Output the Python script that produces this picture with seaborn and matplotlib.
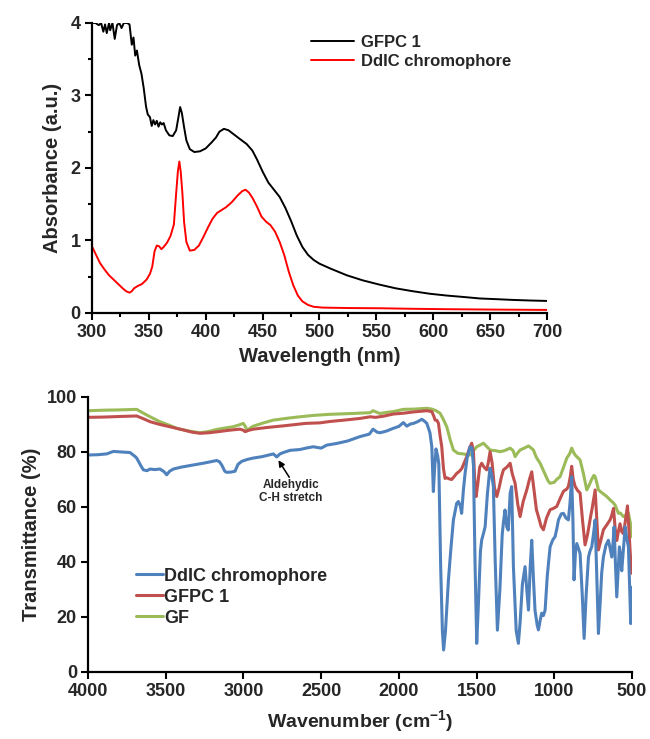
# UV-vis absorbance (top) and FTIR transmittance (bottom) of DdIC chromophore / GFPC 1 / GF
import matplotlib
matplotlib.use("Agg")
import matplotlib.pyplot as plt
import seaborn as sns
import pandas as pd

# ---- UV-vis data (wavelength nm, absorbance) ----
wl_gfpc = [300, 303, 306, 308, 310, 311.5, 313, 315, 316, 318, 320, 322, 324, 326, 328, 331, 333,
           335, 336.5, 338, 339.5, 341.5, 343.5, 345.5, 347.5, 349, 351, 352.5, 354, 355.5, 357,
           358.5, 360, 361.5, 363, 365, 368, 371, 374, 376, 377.5, 379, 381, 383, 386, 390, 395,
           400, 405, 409, 412, 416, 420, 425, 430, 436, 441, 445, 450, 455, 460, 465, 470, 475,
           480, 485, 490, 495, 500, 510, 524, 538, 553, 567, 582, 597, 612, 627, 641, 656, 670,
           685, 700]
abs_gfpc = [4.0, 4.0, 3.97, 4.0, 3.88, 3.98, 3.86, 4.0, 3.9, 4.0, 3.78, 3.97, 4.0, 3.93, 4.0, 4.0, 3.98,
            3.70, 3.80, 3.55, 3.62, 3.42, 3.30, 3.10, 2.85, 2.74, 2.70, 2.58, 2.66, 2.60, 2.65,
            2.57, 2.63, 2.60, 2.62, 2.52, 2.45, 2.44, 2.52, 2.70, 2.84, 2.76, 2.56, 2.38, 2.26, 2.22, 2.23,
            2.27, 2.35, 2.42, 2.50, 2.54, 2.52, 2.46, 2.40, 2.33, 2.24, 2.12, 1.95, 1.80, 1.70, 1.60, 1.45, 1.27,
            1.07, 0.91, 0.80, 0.73, 0.68, 0.61, 0.52, 0.45, 0.39, 0.34, 0.30, 0.265, 0.24, 0.22, 0.20, 0.19, 0.18,
            0.172, 0.166]

wl_ddic = [300, 303, 307, 311, 315, 319, 323, 327, 330, 333, 335, 337, 340, 344, 348, 351, 353, 355,
           357, 359, 361, 363, 366, 369, 372, 374, 375.5, 376.8, 378, 379.5, 381, 383, 386, 390, 394,
           398, 402, 406, 410, 414, 418, 423, 428, 432, 435, 438, 441, 445, 449, 453, 457, 461, 465,
           469, 473, 477, 481, 485, 490, 495, 503, 525, 553, 580, 612, 650, 700]
abs_ddic = [0.92, 0.82, 0.69, 0.60, 0.52, 0.46, 0.40, 0.34, 0.30, 0.28, 0.30, 0.34, 0.37, 0.40, 0.46, 0.54, 0.64, 0.85,
            0.93, 0.92, 0.88, 0.91, 0.97, 1.06, 1.22, 1.65, 1.95, 2.09, 1.95, 1.65, 1.25, 0.98, 0.86, 0.87, 0.93,
            1.05, 1.18, 1.30, 1.38, 1.42, 1.46, 1.53, 1.62, 1.68, 1.70, 1.66, 1.59, 1.47, 1.33, 1.26, 1.21, 1.12, 0.98,
            0.80, 0.57, 0.38, 0.24, 0.16, 0.11, 0.085, 0.074, 0.068, 0.065, 0.058, 0.052, 0.047, 0.042]

# ---- FTIR data (wavenumber cm-1, transmittance %) ----
wn_ddic = [4000, 3940, 3880, 3837, 3780, 3730, 3700, 3687, 3660, 3644, 3620, 3601, 3570, 3537, 3510, 3494,
           3475, 3451, 3400, 3322, 3250, 3172, 3155, 3140, 3120, 3108, 3080, 3054, 3035, 3011, 2975, 2936,
           2880, 2830, 2807, 2786, 2765, 2743, 2700, 2636, 2590, 2550, 2500, 2464, 2400, 2330, 2250, 2190,
           2166, 2140, 2121, 2080, 2036, 2000, 1971, 1949, 1925, 1906, 1880, 1852, 1835, 1820, 1800, 1788,
           1778, 1770, 1761, 1750, 1743, 1731, 1720, 1712, 1700, 1690, 1681, 1665, 1649, 1628, 1617, 1605,
           1596, 1585, 1574, 1560, 1542, 1530, 1520, 1510, 1499, 1488, 1475, 1467, 1455, 1445, 1430, 1414,
           1404, 1392, 1380, 1366, 1350, 1335, 1327, 1317, 1306, 1296, 1284, 1274, 1263, 1245, 1231, 1220,
           1205, 1188, 1177, 1166, 1155, 1145, 1135, 1124, 1110, 1102, 1090, 1081, 1070, 1059, 1045, 1027,
           1010, 995, 984, 973, 955, 941, 925, 909, 898, 888, 880, 873, 863, 855, 845, 834, 820, 808, 795,
           780, 770, 759, 748, 737, 727, 716, 705, 695, 684, 668, 652, 641, 630, 622, 615, 607, 598, 590,
           581, 573, 566, 555, 544, 535, 523, 515, 508, 502, 500]
tr_ddic = [78.9, 79.0, 79.3, 80.2, 80.0, 79.8, 78.5, 77.8, 75.0, 73.5, 73.2, 73.8, 73.6, 73.8, 72.8, 71.7,
           73.0, 73.8, 74.5, 75.3, 76.0, 76.9, 76.5, 75.3, 73.0, 72.6, 72.7, 73.0, 75.5, 76.6, 77.3, 77.8,
           78.3, 79.0, 79.3, 78.2, 79.3, 79.8, 80.6, 80.9, 81.5, 81.9, 81.4, 82.5, 83.1, 84.0, 85.6, 86.5,
           88.3, 87.2, 87.0, 87.6, 88.6, 89.3, 90.7, 89.4, 90.2, 90.4, 91.0, 91.9, 91.2, 90.4, 87.0, 81.9,
           65.6, 74.0, 81.1, 78.5, 75.6, 38.3, 15.0, 8.0, 15.0, 25.0, 33.5, 45.0, 55.3, 61.3, 62.0, 60.5,
           57.7, 66.0, 72.2, 78.0, 81.9, 81.5, 75.0, 40.0, 10.4, 25.0, 44.0, 48.0, 50.5, 52.8, 65.0, 74.1,
           72.0, 67.5, 40.0, 15.2, 30.0, 50.0, 54.5, 58.9, 52.8, 51.6, 65.0, 67.4, 38.3, 15.0, 10.4, 18.0,
           32.0, 38.3, 30.0, 22.5, 38.0, 47.9, 35.0, 22.5, 17.0, 15.3, 19.0, 21.4, 20.5, 22.5, 35.0, 45.5,
           48.0, 49.2, 52.0, 55.3, 57.5, 57.7, 56.0, 55.3, 62.0, 71.0, 55.0, 33.5, 44.0, 46.7, 45.0, 43.1, 28.0, 12.2, 28.0,
           41.8, 44.0, 45.5, 50.0, 55.3, 35.0, 14.0, 25.0, 36.0, 41.8, 46.0, 47.9, 45.0, 41.8, 47.0, 52.8, 40.0, 27.3, 36.0,
           45.5, 42.0, 36.8, 45.0, 52.8, 49.0, 45.5, 30.0, 17.6, 25.0, 30.8]

wn_gfpc = [4000, 3900, 3800, 3687, 3640, 3600, 3537, 3460, 3386, 3330, 3279, 3220, 3160, 3108, 3060, 3022,
           3000, 2990, 2965, 2936, 2850, 2743, 2600, 2507, 2443, 2350, 2250, 2185, 2150, 2100, 2036, 1971,
           1900, 1821, 1788, 1775, 1767, 1755, 1745, 1735, 1724, 1713, 1703, 1690, 1675, 1660, 1645, 1628,
           1610, 1595, 1580, 1563, 1545, 1531, 1520, 1512, 1503, 1493, 1480, 1467, 1452, 1435, 1425, 1413,
           1400, 1385, 1370, 1355, 1340, 1327, 1305, 1284, 1270, 1252, 1235, 1220, 1200, 1177, 1160, 1145,
           1130, 1115, 1102, 1085, 1070, 1050, 1027, 1005, 984, 963, 941, 920, 909, 897, 888, 878, 866, 850,
           834, 818, 802, 786, 770, 755, 737, 726, 716, 700, 684, 662, 641, 630, 619, 608, 598, 588, 577,
           566, 555, 545, 535, 529, 520, 510, 501]
tr_gfpc = [92.6, 92.7, 92.9, 93.1, 92.0, 91.0, 90.0, 89.0, 88.0, 87.2, 86.8, 87.0, 87.4, 87.8, 88.1, 88.3,
           87.9, 87.4, 87.9, 88.3, 88.9, 89.5, 90.4, 90.6, 91.1, 91.6, 92.2, 92.8, 92.6, 93.0, 93.8, 94.1,
           94.6, 95.0, 94.7, 93.0, 91.6, 91.5, 90.4, 86.0, 81.9, 74.0, 70.4, 70.6, 70.2, 70.0, 71.0, 72.2,
           73.0, 74.0, 76.0, 78.3, 81.5, 83.2, 80.0, 70.0, 63.8, 68.0, 74.5, 75.9, 74.5, 73.5, 76.0, 80.1,
           76.0, 67.0, 63.8, 67.0, 71.0, 73.5, 74.5, 75.9, 72.0, 68.6, 61.0, 56.5, 62.0, 66.2, 70.0, 72.8,
           66.0, 59.0, 56.5, 53.0, 51.7, 56.0, 59.0, 59.5, 60.2, 63.0, 65.7, 66.5, 67.5, 71.0, 74.8, 70.0, 67.5, 66.0,
           65.1, 55.0, 46.2, 50.0, 55.3, 60.0, 66.2, 55.0, 44.4, 48.0, 51.7, 53.5, 55.3, 57.0, 59.5, 52.0, 47.8, 51.0, 53.9,
           51.0, 50.3, 54.0, 58.0, 60.4, 52.0, 42.0, 35.9]

wn_gf = [4000, 3900, 3800, 3687, 3640, 3590, 3537, 3480, 3429, 3350, 3279, 3220, 3172, 3120, 3065, 3030,
         3001, 2985, 2975, 2955, 2936, 2870, 2807, 2700, 2636, 2550, 2443, 2300, 2185, 2166, 2145, 2121,
         2080, 2036, 1971, 1900, 1820, 1788, 1760, 1735, 1715, 1692, 1670, 1649, 1620, 1585, 1560, 1542,
         1520, 1499, 1478, 1456, 1435, 1413, 1380, 1349, 1320, 1284, 1265, 1252, 1238, 1220, 1190, 1166,
         1150, 1134, 1115, 1091, 1060, 1040, 1027, 1000, 985, 963, 940, 920, 900, 888, 877, 866, 850, 834,
         812, 791, 775, 760, 745, 737, 725, 716, 690, 662, 640, 620, 609, 597, 587, 575, 555, 540, 523,
         510, 500]
tr_gf = [95.0, 95.2, 95.3, 95.5, 94.0, 92.5, 91.0, 89.8, 88.6, 87.6, 87.0, 87.5, 88.2, 88.7, 89.2, 89.8,
         90.4, 89.0, 87.7, 88.8, 89.4, 90.6, 91.6, 92.4, 92.8, 93.3, 93.7, 94.0, 94.3, 95.0, 94.5, 94.0,
         94.4, 94.7, 95.5, 95.6, 95.9, 95.6, 95.0, 94.1, 92.0, 89.2, 84.5, 80.7, 79.5, 79.3, 79.0, 78.9,
         80.5, 81.9, 82.5, 83.2, 82.0, 80.7, 80.5, 80.1, 80.5, 81.4, 80.5, 78.3, 79.5, 80.7, 81.5, 82.2,
         81.5, 80.7, 78.0, 75.9, 72.0, 69.5, 68.6, 69.0, 70.0, 71.0, 74.5, 77.7, 79.5, 81.4, 80.0, 78.9, 78.0, 77.1,
         72.0, 66.2, 68.0, 70.0, 71.5, 71.0, 68.5, 66.2, 65.0, 63.8, 62.5, 61.5, 60.7, 59.0, 57.7, 57.8, 56.5, 57.0, 57.7,
         54.0, 49.2]

sns.set_style("ticks")
plt.rcParams["font.family"] = ["Liberation Sans", "DejaVu Sans"]
plt.rcParams["font.weight"] = "bold"
plt.rcParams["axes.labelweight"] = "bold"
plt.rcParams["mathtext.fontset"] = "custom"
plt.rcParams["mathtext.rm"] = "Liberation Sans:bold"
plt.rcParams["mathtext.bf"] = "Liberation Sans:bold"
plt.rcParams["mathtext.default"] = "bf"

fig = plt.figure(figsize=(6.5, 7.39), dpi=100)
ax1 = fig.add_axes([0.1415, 0.5765, 0.70, 0.3924])
ax2 = fig.add_axes([0.1354, 0.0907, 0.8369, 0.3721])

# ---- top: absorbance ----
uv1 = pd.DataFrame({"x": wl_gfpc, "y": abs_gfpc})
uv2 = pd.DataFrame({"x": wl_ddic, "y": abs_ddic})
sns.lineplot(data=uv1, x="x", y="y", ax=ax1, color="black", lw=1.4, sort=False, estimator=None, label="GFPC 1")
sns.lineplot(data=uv2, x="x", y="y", ax=ax1, color="#ff0000", lw=1.4, sort=False, estimator=None, label="DdIC chromophore")
ax1.set_xlim(300, 700)
ax1.set_ylim(0, 4)
ax1.set_xticks(range(300, 701, 50))
ax1.set_xticks(range(325, 700, 50), minor=True)
ax1.set_yticks([0, 1, 2, 3, 4])
ax1.set_yticks([0.5, 1.5, 2.5, 3.5], minor=True)
ax1.set_xlabel("Wavelength (nm)", fontsize=14.5, fontweight="bold", labelpad=4)
ax1.set_ylabel("Absorbance (a.u.)", fontsize=14.5, fontweight="bold", labelpad=6)
ax1.legend(loc="upper left", bbox_to_anchor=(0.465, 0.964), bbox_transform=fig.transFigure,
           frameon=False, handlelength=2.6, handletextpad=0.4, borderpad=0,
           labelspacing=0.25, prop={"weight": "bold", "size": 12})

# ---- bottom: FTIR ----
ir_gf = pd.DataFrame({"x": wn_gf, "y": tr_gf})
ir_gfpc = pd.DataFrame({"x": wn_gfpc, "y": tr_gfpc})
ir_ddic = pd.DataFrame({"x": wn_ddic, "y": tr_ddic})
sns.lineplot(data=ir_gf, x="x", y="y", ax=ax2, color="#9bbb59", lw=2.2, sort=False, estimator=None, label="GF")
sns.lineplot(data=ir_gfpc, x="x", y="y", ax=ax2, color="#c0504d", lw=2.2, sort=False, estimator=None, label="GFPC 1")
sns.lineplot(data=ir_ddic, x="x", y="y", ax=ax2, color="#4f81bd", lw=2.2, sort=False, estimator=None, label="DdIC chromophore")
ax2.set_xlim(4000, 500)
ax2.set_ylim(0, 100)
ax2.set_xticks(range(4000, 499, -500))
ax2.set_yticks(range(0, 101, 20))
ax2.set_xlabel("Wavenumber (cm$^{-1}$)", fontsize=14, fontweight="bold", labelpad=6)
ax2.set_ylabel("Transmittance (%)", fontsize=14.5, fontweight="bold", labelpad=4)
h, l = ax2.get_legend_handles_labels()
ax2.legend(h[::-1], l[::-1], loc="upper left", bbox_to_anchor=(0.196, 0.244), bbox_transform=fig.transFigure,
           frameon=False, handlelength=1.45, handletextpad=0.1, borderpad=0, labelspacing=0.22,
           prop={"weight": "bold", "size": 13})
ax2.text(2694, 65.6, "Aldehydic\nC-H stretch", ha="center", va="center", fontsize=8.5, fontweight="bold")
ax2.annotate("", xy=(2775, 77.0), xytext=(2705, 70.8),
             arrowprops=dict(arrowstyle="-|>", color="black", lw=1.1, mutation_scale=9, shrinkA=0, shrinkB=0))

for ax in (ax1, ax2):
    sns.despine(ax=ax)
    for s in ("left", "bottom"):
        ax.spines[s].set_linewidth(1.6)
        ax.spines[s].set_color("black")
    ax.tick_params(which="major", length=5, width=1.5, color="black", labelsize=13, pad=3)
    ax.tick_params(which="minor", length=3, width=1.5, color="black")
    for t in ax.get_xticklabels() + ax.get_yticklabels():
        t.set_fontweight("bold")

fig.savefig("out.png", dpi=100)
